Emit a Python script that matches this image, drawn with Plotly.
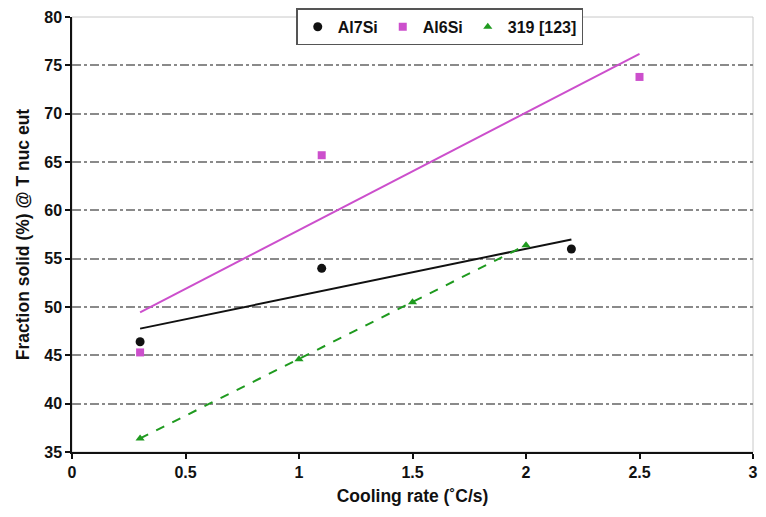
import numpy as np
import plotly.graph_objects as go

# Measured data
al7si_x = [0.3, 1.1, 2.2]
al7si_y = [46.4, 54.0, 56.0]

al6si_x = [0.3, 1.1, 2.5]
al6si_y = [45.3, 65.7, 73.8]

s319_x = [0.3, 1.0, 1.5, 2.0]
s319_y = [36.4, 44.6, 50.5, 56.4]

x_ticks = [0, 0.5, 1, 1.5, 2, 2.5, 3]
y_ticks = [35, 40, 45, 50, 55, 60, 65, 70, 75, 80]

BLACK = "#111111"
MAGENTA = "#CC4FCC"
GREEN = "#1F9A1F"
FONT = "Liberation Sans, Arial, sans-serif"


def linear_fit(xs, ys):
    slope, intercept = np.polyfit(xs, ys, 1)
    xe = np.array([min(xs), max(xs)])
    return xe, slope * xe + intercept


fig = go.Figure()

# Least-squares trendlines for the two alloys
fx, fy = linear_fit(al7si_x, al7si_y)
fig.add_trace(go.Scatter(x=fx, y=fy, mode="lines", line=dict(color=BLACK, width=2),
                         showlegend=False, hoverinfo="skip"))
fx, fy = linear_fit(al6si_x, al6si_y)
fig.add_trace(go.Scatter(x=fx, y=fy, mode="lines", line=dict(color=MAGENTA, width=2),
                         showlegend=False, hoverinfo="skip"))

# 319 reference series joined by a dashed line
fig.add_trace(go.Scatter(x=s319_x, y=s319_y, mode="lines",
                         line=dict(color=GREEN, width=2, dash="dash"),
                         showlegend=False, hoverinfo="skip"))

fig.add_trace(go.Scatter(x=al7si_x, y=al7si_y, mode="markers", name="Al7Si",
                         marker=dict(symbol="circle", size=9, color=BLACK)))
fig.add_trace(go.Scatter(x=al6si_x, y=al6si_y, mode="markers", name="Al6Si",
                         marker=dict(symbol="square", size=8, color=MAGENTA)))
fig.add_trace(go.Scatter(x=s319_x, y=s319_y, mode="markers", name="319 [123]",
                         marker=dict(symbol="triangle-up", size=8, color=GREEN)))

bold16 = dict(family=FONT, size=16, color=BLACK, weight="bold")
bold18 = dict(family=FONT, size=17.5, color=BLACK, weight="bold")

fig.update_layout(
    width=766, height=517,
    margin=dict(l=72, r=8, t=14, b=65),
    paper_bgcolor="white", plot_bgcolor="white",
    font=dict(family=FONT, color=BLACK, size=15),
    legend=dict(
        orientation="h", x=0.54, xanchor="center", y=1.02, yanchor="top",
        bgcolor="white", bordercolor="#555555", borderwidth=1.5,
        font=bold16, itemwidth=30, tracegroupgap=0,
    ),
    # light frame around the plotting area
    shapes=[dict(type="rect", xref="paper", yref="paper", x0=0, x1=1, y0=0, y1=1,
                 line=dict(color="#c8c8c8", width=1), layer="below")],
)

fig.update_xaxes(
    range=[0, 3], tickvals=x_ticks, tickfont=bold16,
    showline=True, linecolor=BLACK, linewidth=1.5, mirror=False,
    ticks="outside", ticklen=5, tickcolor=BLACK, tickwidth=1.5,
    showgrid=False, zeroline=False,
    title=dict(text="Cooling rate (˚C/s)", font=bold18, standoff=10),
)
fig.update_yaxes(
    range=[35, 80], tickvals=y_ticks, tickfont=bold16,
    showline=True, linecolor=BLACK, linewidth=1.5, mirror=False,
    ticks="outside", ticklen=5, tickcolor=BLACK, tickwidth=1.5,
    showgrid=True, gridcolor="#8a8a8a", gridwidth=1.5, griddash="dashdot",
    zeroline=False,
    title=dict(text="Fraction solid (%) @ T nuc eut", font=bold18, standoff=10),
)

fig.write_html("out.html")
